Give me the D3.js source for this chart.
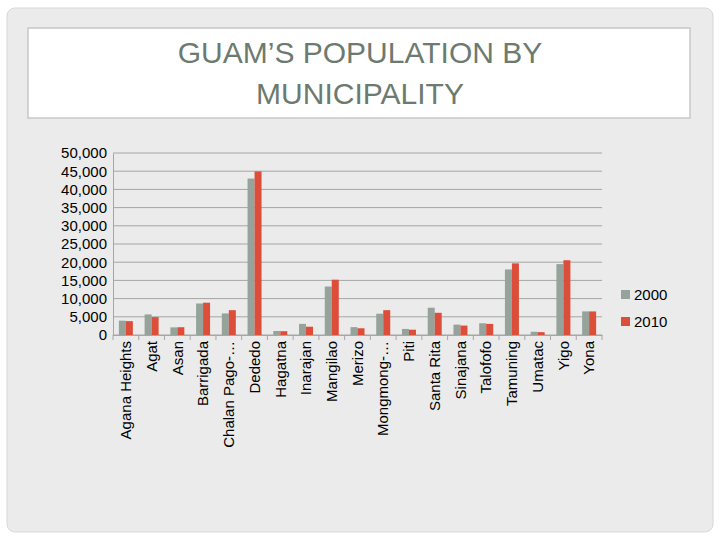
<!DOCTYPE html>
<html><head><meta charset="utf-8">
<script src="https://cdn.jsdelivr.net/npm/d3@7"></script>
<style>body{margin:0;background:#fff}</style></head>
<body><svg id="c" width="720" height="540"></svg>
<script>
const categories=["Agana Heights","Agat","Asan","Barrigada","Chalan Pago-…","Dededo","Hagatna","Inarajan","Mangilao","Merizo","Mongmong-…","Piti","Santa Rita","Sinajana","Talofofo","Tamuning","Umatac","Yigo","Yona"];
const values2000=[3940,5656,2090,8652,5923,42980,1100,3052,13313,2163,5845,1666,7500,2853,3215,18012,887,19474,6484];
const values2010=[3808,4917,2137,8875,6822,44943,1051,2273,15191,1850,6825,1454,6100,2592,3050,19685,782,20539,6480];
const seriesNames=["2000","2010"];
const yTicks=[0,5000,10000,15000,20000,25000,30000,35000,40000,45000,50000];
const colors=["#95a39b","#dd4e3a"];
const svg=d3.select("#c");
svg.append("rect").attr("width",720).attr("height",540).attr("fill","#fff");
svg.append("rect").attr("x",7).attr("y",8).attr("width",706).attr("height",524).attr("rx",8).attr("fill","#ebebeb").attr("stroke","#d8d8d8");
svg.append("rect").attr("x",28).attr("y",28).attr("width",662).attr("height",90).attr("fill","#fff").attr("stroke","#c8c8c8").attr("stroke-width",1.5);
svg.append("text").attr("x",360).attr("y",63).attr("text-anchor","middle").attr("font-family","Liberation Sans, sans-serif").attr("font-size",30).attr("fill","#6c7a70").text("GUAM’S POPULATION BY");
svg.append("text").attr("x",360).attr("y",104).attr("text-anchor","middle").attr("font-family","Liberation Sans, sans-serif").attr("font-size",30).attr("fill","#6c7a70").text("MUNICIPALITY");
const x=d3.scaleBand().domain(categories).range([113,602]);
const y=d3.scaleLinear().domain([0,50000]).range([335,153]);
const g=svg.append("g");
g.selectAll(".gl").data(yTicks).join("line").attr("x1",113).attr("x2",602).attr("y1",d=>y(d)).attr("y2",d=>y(d)).attr("stroke","#a6a6a6");
const yAx=svg.append("g").attr("transform","translate(113,0)").call(d3.axisLeft(y).tickValues(yTicks).tickFormat(d3.format(",")).tickSize(0).tickPadding(6));
yAx.select(".domain").attr("stroke","#a6a6a6");
yAx.selectAll("text").attr("font-family","Liberation Sans, sans-serif").attr("font-size",15).attr("fill","#000");
const bw=7;
[values2000,values2010].forEach((vals,si)=>{
 g.selectAll(".b"+si).data(vals).join("rect").attr("x",(d,i)=>x(categories[i])+x.bandwidth()/2-bw+si*bw).attr("width",bw).attr("y",d=>y(d)).attr("height",d=>y(0)-y(d)).attr("fill",colors[si]);
});
const xAx=svg.append("g").attr("transform","translate(0,335)").call(d3.axisBottom(x).tickSize(0).tickPadding(6));
xAx.select(".domain").attr("stroke","#a6a6a6");
xAx.selectAll(".tk").data(d3.range(categories.length+1)).join("line").attr("x1",i=>113+i*x.step()).attr("x2",i=>113+i*x.step()).attr("y1",0).attr("y2",5).attr("stroke","#a6a6a6");
xAx.selectAll(".tick text").attr("font-family","Liberation Sans, sans-serif").attr("font-size",15).attr("fill","#000").attr("text-anchor","end").attr("transform","rotate(-90)").attr("dx","-6").attr("dy","0.35em").attr("x",0).attr("y",0);
seriesNames.forEach((s,i)=>{
 svg.append("rect").attr("x",621).attr("y",290+i*27).attr("width",9).attr("height",9).attr("fill",colors[i]);
 svg.append("text").attr("x",634).attr("y",300+i*27).attr("font-family","Liberation Sans, sans-serif").attr("font-size",15).text(s);
});
</script></body></html>
